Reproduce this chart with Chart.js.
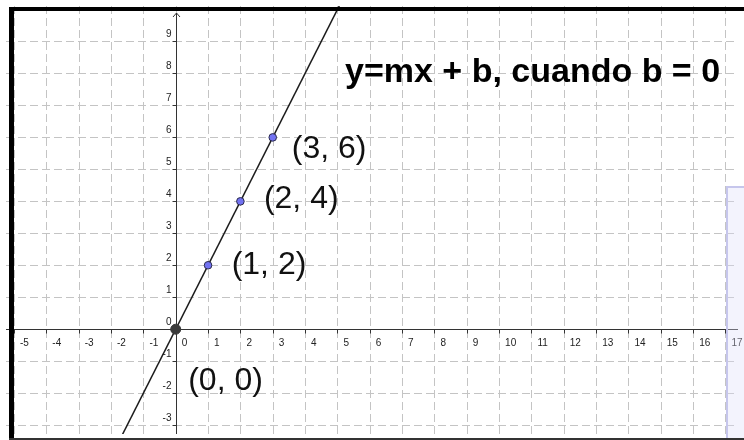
<!DOCTYPE html>
<html>
<head>
<meta charset="utf-8">
<script src="https://cdn.jsdelivr.net/npm/chart.js@4"></script>
<style>
  html, body { margin: 0; padding: 0; background: #fff; }
  #wrap { width: 744px; height: 440px; }
</style>
</head>
<body>
<div id="wrap"><canvas id="lineChart" width="744" height="440"></canvas></div>
<script>
// y = m*x + b, with b = 0
const slope = 2;
const intercept = 0;

const pointX = [0, 1, 2, 3];
const pointY = [0, 2, 4, 6];
const pointLabels = ["(0, 0)", "(1, 2)", "(2, 4)", "(3, 6)"];

const xTickLabels = ["-5", "-4", "-3", "-2", "-1", "0", "1", "2", "3", "4", "5", "6", "7", "8",
  "9", "10", "11", "12", "13", "14", "15", "16", "17"];
const yTickLabels = ["-3", "-2", "-1", "0", "1", "2", "3", "4", "5", "6", "7", "8", "9"];

const titleText = "y=mx + b, cuando b = 0";

// visible window of the plane
const xRange = [-5.248, 17.387];
const yRange = [-3.277, 10.11];

// where each point label sits, relative to its point (px: left, baseline)
const labelOffsets = [[12.5, 61], [23.6, 8.4], [23.5, 7], [19, 21]];

const AXIS = '#333333';
const GRID = '#c4c4c4';
const TICK_FONT = '10px "Liberation Sans", Arial, sans-serif';

const coordPlane = {
  id: 'coordPlane',
  beforeDatasetsDraw(chart) {
    const { ctx, chartArea: a, scales: { x, y } } = chart;
    ctx.save();

    // dashed grid, one line per unit
    ctx.strokeStyle = GRID;
    ctx.lineWidth = 1;
    ctx.setLineDash([8, 4]);
    xTickLabels.forEach(t => {
      const px = Math.round(x.getPixelForValue(+t)) + 0.5;
      ctx.beginPath(); ctx.moveTo(px, a.top); ctx.lineTo(px, a.bottom); ctx.stroke();
    });
    yTickLabels.forEach(t => {
      const py = Math.round(y.getPixelForValue(+t)) + 0.5;
      ctx.beginPath(); ctx.moveTo(a.left, py); ctx.lineTo(a.right, py); ctx.stroke();
    });
    ctx.setLineDash([]);

    // axes
    const x0 = Math.round(x.getPixelForValue(0)) + 0.5;
    const y0 = Math.round(y.getPixelForValue(0)) + 0.5;
    ctx.strokeStyle = AXIS;
    ctx.beginPath();
    ctx.moveTo(a.left, y0); ctx.lineTo(a.right, y0);
    ctx.moveTo(x0, a.bottom); ctx.lineTo(x0, 13);
    ctx.stroke();
    // arrow head on the y axis
    ctx.beginPath();
    ctx.moveTo(x0 - 3.5, 17); ctx.lineTo(x0, 13); ctx.lineTo(x0 + 3.5, 17);
    ctx.stroke();

    // tick marks
    ctx.beginPath();
    xTickLabels.forEach(t => {
      const px = Math.round(x.getPixelForValue(+t)) + 0.5;
      ctx.moveTo(px, y0); ctx.lineTo(px, y0 + 4);
    });
    yTickLabels.forEach(t => {
      const py = Math.round(y.getPixelForValue(+t)) + 0.5;
      ctx.moveTo(x0 - 4, py); ctx.lineTo(x0, py);
    });
    ctx.stroke();

    // tick labels
    ctx.fillStyle = '#222';
    ctx.font = TICK_FONT;
    ctx.textBaseline = 'alphabetic';
    ctx.textAlign = 'left';
    xTickLabels.forEach(t => {
      ctx.fillText(t, x.getPixelForValue(+t) + 6, y0 + 16);
    });
    ctx.textAlign = 'right';
    yTickLabels.forEach(t => {
      ctx.fillText(t, x0 - 5, y.getPixelForValue(+t) - 4);
    });
    ctx.restore();
  },
  afterDatasetsDraw(chart) {
    const { ctx, scales: { x, y } } = chart;
    ctx.save();

    // point labels
    ctx.fillStyle = '#111';
    ctx.font = '32px "Liberation Sans", Arial, sans-serif';
    ctx.textAlign = 'left';
    ctx.textBaseline = 'alphabetic';
    pointLabels.forEach((txt, i) => {
      const px = x.getPixelForValue(pointX[i]);
      const py = y.getPixelForValue(pointY[i]);
      ctx.fillText(txt, px + labelOffsets[i][0], py + labelOffsets[i][1]);
    });

    // heading
    ctx.fillStyle = '#000';
    ctx.font = 'bold 34px "Liberation Sans", Arial, sans-serif';
    ctx.fillText(titleText, 345, 82);

    // side panel
    ctx.fillStyle = 'rgba(222, 222, 248, 0.35)';
    ctx.fillRect(726, 186, 30, 260);
    ctx.strokeStyle = '#c6c6ec';
    ctx.lineWidth = 2;
    ctx.strokeRect(727, 187, 40, 300);

    // window frame
    ctx.fillStyle = '#000';
    ctx.fillRect(9, 7, 735, 4);
    ctx.fillRect(9, 7, 5, 433);
    ctx.fillStyle = '#333';
    ctx.fillRect(9, 438, 735, 2);
    ctx.restore();
  }
};

const linePts = xRange.map(v => ({ x: v, y: slope * v + intercept }));
const markPts = pointX.map((v, i) => ({ x: v, y: pointY[i] }));

new Chart(document.getElementById('lineChart').getContext('2d'), {
  type: 'scatter',
  data: {
    datasets: [
      {
        label: 'Puntos',
        data: markPts,
        pointBackgroundColor: pointX.map(v => v === 0 ? '#3a3a3a' : '#7272f2'),
        pointBorderColor: pointX.map(v => v === 0 ? '#3a3a3a' : '#2a2a4a'),
        pointBorderWidth: 1,
        pointRadius: pointX.map(v => v === 0 ? 5 : 3.8)
      },
      {
        label: 'y = mx + b',
        data: linePts,
        showLine: true,
        borderColor: '#1c1c1c',
        borderWidth: 1.5,
        pointRadius: 0
      }
    ]
  },
  options: {
    responsive: false,
    animation: false,
    devicePixelRatio: 1,
    layout: { padding: 0 },
    plugins: {
      legend: { display: false },
      tooltip: { enabled: false },
      title: { display: false }
    },
    scales: {
      x: { type: 'linear', min: xRange[0], max: xRange[1], display: false },
      y: { type: 'linear', min: yRange[0], max: yRange[1], display: false }
    }
  },
  plugins: [coordPlane]
});
</script>
</body>
</html>
